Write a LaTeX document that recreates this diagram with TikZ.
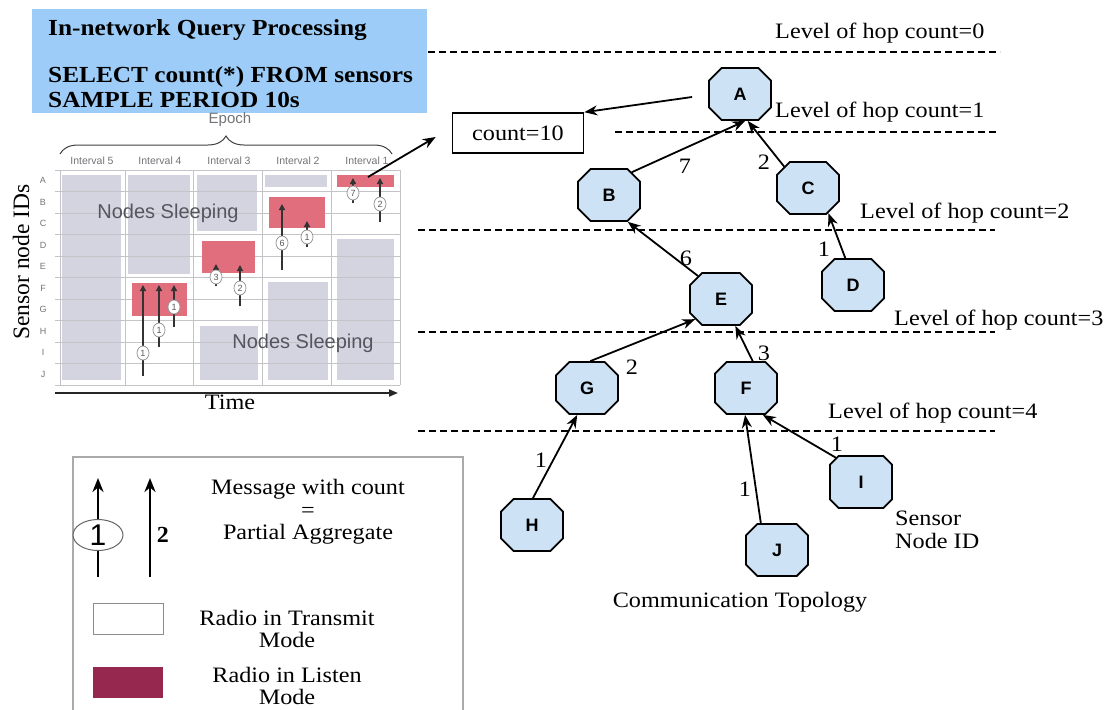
\documentclass[tikz,border=0pt]{standalone}
\usepackage{fontspec}
\setmainfont{Liberation Serif}
\setsansfont{Liberation Sans}
\usetikzlibrary{shapes.geometric,shapes.misc,arrows.meta,calc,decorations.pathreplacing}

\definecolor{queryblue}{RGB}{156,204,247}
\definecolor{nodeblue}{RGB}{205,226,245}
\definecolor{sleepgray}{RGB}{212,212,224}
\definecolor{listenred}{RGB}{225,110,124}
\definecolor{listenmaroon}{RGB}{150,40,80}
\definecolor{gridgray}{RGB}{196,196,200}
\definecolor{labelgray}{RGB}{115,115,120}
\definecolor{sleeptext}{RGB}{85,85,95}
\definecolor{framegray}{RGB}{170,170,170}

\tikzset{
  txt/.style={font=\fontsize{22}{22.5}\selectfont, xscale=1.1, inner sep=0pt},
  btxt/.style={font=\fontsize{23}{23.5}\selectfont\bfseries, xscale=1.1, inner sep=0pt},
  querybox/.style={rectangle, fill=queryblue, minimum width=395pt, minimum height=104pt, inner sep=0pt},
  sensor/.style={chamfered rectangle, chamfered rectangle xsep=10pt, chamfered rectangle ysep=11pt,
    minimum width=62pt, minimum height=52pt,
    draw=black, line width=1.8pt, fill=nodeblue, inner sep=0pt,
    font=\sffamily\bfseries\fontsize{18}{18}\selectfont},
  link/.style={-{Stealth[length=13pt,width=10pt]}, line width=1.8pt},
  hopline/.style={dash pattern=on 7pt off 4pt, line width=2.2pt},
  gridline/.style={gridgray, line width=1pt},
  rowlbl/.style={font=\sffamily\fontsize{9}{9}\selectfont, text=labelgray, inner sep=0pt},
  intlbl/.style={font=\sffamily\fontsize{10.5}{10.5}\selectfont, text=labelgray, inner sep=0pt},
  sleeplbl/.style={font=\sffamily\fontsize{20}{20}\selectfont, text=sleeptext, inner sep=0pt},
  chartarr/.style={-{Triangle[length=6pt,width=6pt]}, line width=1.3pt, black!80},
  msg/.style={ellipse, draw=black!40, fill=white, line width=0.8pt, minimum width=12pt,
    minimum height=14pt, inner sep=0pt, font=\sffamily\fontsize{9}{9}\selectfont, text=black!65},
  legarrow/.style={-{Stealth[length=14pt,width=11pt]}, line width=2.4pt},
  legoval/.style={ellipse, draw=black!60, fill=white, line width=1pt, minimum width=50pt,
    minimum height=31pt, inner sep=0pt, font=\sffamily\fontsize{30}{30}\selectfont},
  legbox/.style={rectangle, minimum width=70pt, minimum height=31pt, inner sep=0pt}
}

\begin{document}
\begin{tikzpicture}[x=1pt, y=-1pt]
\useasboundingbox (0,0) rectangle (1115,709);

% ---------------- query box ----------------
\node[querybox, anchor=north west] (query) at (32,9) {};
\node[btxt, anchor=west] (qtitle) at (48,30) {In-network Query Processing};
\node[btxt, anchor=west] (qselect) at (48,77) {SELECT count(*) FROM sensors};
\node[btxt, anchor=west] (qperiod) at (48,100) {SAMPLE PERIOD 10s};

% ---------------- epoch chart ----------------
% sleeping regions
\fill[sleepgray] (62,175) rectangle (121,380);
\fill[sleepgray] (128,175) rectangle (190,274);
\fill[sleepgray] (197,175) rectangle (257,231);
\fill[sleepgray] (265,175) rectangle (327,187);
\fill[sleepgray] (200,326) rectangle (258,380);
\fill[sleepgray] (268,282) rectangle (328,380);
\fill[sleepgray] (337,239) rectangle (394,380);

% grid
\foreach \gx in {60,125,193,262,331,400}
  \draw[gridline] (\gx,170) -- (\gx,385);
\foreach \k in {0,...,10}
  \draw[gridline] (55,170+21.5*\k) -- (400,170+21.5*\k);

% listening periods
\fill[listenred] (337,175) rectangle (394,187);
\fill[listenred] (269,197) rectangle (325,228);
\fill[listenred] (202,241) rectangle (255,273);
\fill[listenred] (132,283) rectangle (187,316);

% row and interval labels
\foreach \r [count=\k from 0] in {A,B,C,D,E,F,G,H,I,J}
  \node[rowlbl] (row\r) at (43,180.75+21.5*\k) {\r};
\foreach \t/\ix in {5/92,4/160,3/229,2/298,1/367}
  \node[intlbl] (int\t) at (\ix,161) {Interval \t};

\node[sleeplbl] (sleepA) at (168,213) {Nodes Sleeping};
\node[sleeplbl] (sleepB) at (303,343) {Nodes Sleeping};

% epoch brace
\node[font=\sffamily\fontsize{15}{15}\selectfont, text=labelgray, inner sep=0pt] (epoch) at (230,120) {Epoch};
\draw[decorate, decoration={brace, amplitude=18pt}, line width=1pt, black!75] (60,154) -- (392,154);

% axes
\node[font=\fontsize{23.5}{23.5}\selectfont, rotate=90, inner sep=0pt] (ids) at (21,262) {Sensor node IDs};
\draw[-{Triangle[length=9pt,width=7pt]}, line width=1.8pt, black!85] (55,393) -- (398,393);
\node[txt] (time) at (230,402) {Time};

% messages with partial counts
\draw[chartarr] (143,376) -- (143,285);
\node[msg] (m1) at (143,353) {1};
\draw[chartarr] (159,347) -- (159,285);
\node[msg] (m2) at (159,330) {1};
\draw[chartarr] (174,327) -- (174,285);
\node[msg] (m3) at (174,307) {1};
\draw[chartarr] (216,286) -- (216,264);
\node[msg] (m4) at (216,277) {3};
\draw[chartarr] (240,306) -- (240,265);
\node[msg] (m5) at (240,288) {2};
\draw[chartarr] (282,270) -- (282,204);
\node[msg] (m6) at (282,243) {6};
\draw[chartarr] (307,247) -- (307,221);
\node[msg] (m7) at (307,237) {1};
\draw[chartarr] (353,203) -- (353,178);
\node[msg] (m8) at (353,193) {7};
\draw[chartarr] (380,222) -- (380,178);
\node[msg] (m9) at (380,204) {2};

% ---------------- legend ----------------
\draw[framegray, line width=1.2pt] (73,712) -- (73,457) -- (463,457) -- (463,712);
\coordinate (leg1b) at (98,577);
\coordinate (leg1t) at (98,478);
\coordinate (leg2b) at (150,577);
\coordinate (leg2t) at (150,478);
\draw[legarrow] (leg1b) -- (leg1t);
\node[legoval] (oval) at (98,535) {1};
\draw[legarrow] (leg2b) -- (leg2t);
\node[btxt, xscale=0.95] (two) at (163,535) {2};
\node[txt, align=center] (msgtxt) at (308,512) {Message with count\\=\\Partial Aggregate};
\node[legbox, draw=black!45, fill=white, line width=1pt] (txbox) at (128,619) {};
\node[txt, align=center] (txtxt) at (287,629) {Radio in Transmit\\Mode};
\node[legbox, fill=listenmaroon] (lsbox) at (128,682) {};
\node[txt, align=center] (lstxt) at (287,686) {Radio in Listen\\Mode};

% ---------------- hop levels ----------------
\draw[hopline] (428,52) -- (1000,52);
\draw[hopline] (615,132) -- (997,132);
\draw[hopline] (418,230) -- (995,230);
\draw[hopline] (418,332) -- (995,332);
\draw[hopline] (418,431) -- (995,431);
\node[txt, anchor=west] (lv0) at (775,33) {Level of hop count=0};
\node[txt, anchor=west] (lv1) at (775,112) {Level of hop count=1};
\node[txt, anchor=west] (lv2) at (860,213) {Level of hop count=2};
\node[txt, anchor=west] (lv3) at (894,320) {Level of hop count=3};
\node[txt, anchor=west] (lv4) at (828,413) {Level of hop count=4};

% ---------------- topology ----------------
\node[sensor] (A) at (740,94) {A};
\node[sensor] (B) at (609,195) {B};
\node[sensor] (C) at (808,188) {C};
\node[sensor] (D) at (853,285) {D};
\node[sensor] (E) at (721,299) {E};
\node[sensor] (F) at (746,388) {F};
\node[sensor] (G) at (587,388) {G};
\node[sensor] (H) at (532,525) {H};
\node[sensor] (I) at (861,482) {I};
\node[sensor] (J) at (777,550) {J};

\node[txt, draw, line width=1.6pt, minimum width=119pt, minimum height=40pt] (count) at (518,133) {count=10};

\draw[link] (B.45) -- (A.-79);
\draw[link] (C.138) -- (A.-74);
\draw[link] (D.106) -- (C.-51);
\draw[link] (E.135) -- (B.-55);
\draw[link] (G.83) -- (E.-142);
\draw[link] (F.76) -- (E.-62);
\draw[link] (H.88) -- (G.-110);
\draw[link] (J.121) -- (F.-92);
\draw[link] (I.136) -- (F.-58);

\draw[link] ($(A.west)+(-16,3)$) -- (count.north east);
\coordinate (epochout) at (368,177);
\draw[link] (epochout) -- ($(count.west)+(-16,4)$);

\node[txt] (wBA) at (685,166) {7};
\node[txt] (wCA) at (764,162) {2};
\node[txt] (wDC) at (824,249) {1};
\node[txt] (wEB) at (686,258) {6};
\node[txt] (wGE) at (632,367) {2};
\node[txt] (wFE) at (764,353) {3};
\node[txt] (wHG) at (541,460) {1};
\node[txt] (wJF) at (745,489) {1};
\node[txt] (wIF) at (837,444) {1};

\node[txt, align=left, anchor=west] (sid) at (895,530) {Sensor\\Node ID};
\node[txt] (topo) at (740,602) {Communication Topology};

\end{tikzpicture}
\end{document}
